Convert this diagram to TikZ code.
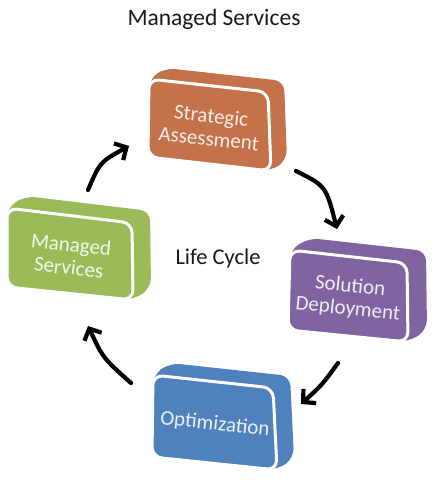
\documentclass[tikz,border=0pt]{standalone}
\usepackage{fontspec}
\setmainfont{Carlito}
\usetikzlibrary{calc,arrows.meta}
\definecolor{cOrange}{HTML}{C4724A}
\definecolor{cGreen}{HTML}{9BBB59}
\definecolor{cPurple}{HTML}{8064A2}
\definecolor{cBlue}{HTML}{4F81BD}
\tikzset{
  boxtext/.style={align=center, font=\fontsize{21}{23}\selectfont, rotate=-6, inner sep=0pt},
  cyc/.style={line width=4.2pt, line cap=round, -{Straight Barb[length=9pt,width=19pt]}},
}
% #1 name, #2 colour, #3 TL, #4 TR, #5 BR, #6 BL, #7 text, #8 depth offset
\newcommand{\slabbox}[8]{%
  \fill[#2, rounded corners=10pt] #3 -- ($#3+#8$) -- ($#4+#8$) -- ($#5+#8$) -- #5 -- #6 -- cycle;
  \draw[fill=#2, draw=white, line width=3pt, rounded corners=10pt] #3 -- #4 -- #5 -- #6 -- cycle;
  \node[boxtext, text=white!88!#2] (#1) at ($#3!0.5!#5+(0,2)$) {#7};
}
\begin{document}
\begin{tikzpicture}[x=1pt,y=-1pt]
\fill[white] (0,0) rectangle (442,483);
\useasboundingbox (0,0) rectangle (442,483);
\node[font=\fontsize{23.5}{26}\selectfont, text=black!90] (title) at (214,19) {Managed Services};
\node[font=\fontsize{22.5}{25}\selectfont, text=black!90] (lc) at (218,258) {Life Cycle};
\slabbox{sa}{cOrange}{(149,79)}{(268,92)}{(271,171)}{(148,157)}{Strategic\\Assessment}{(16,-11)}
\slabbox{ms}{cGreen}{(7,208)}{(132,223)}{(133,300)}{(7,287)}{Managed\\Services}{(18,-12)}
\slabbox{sd}{cPurple}{(290,250)}{(407,263)}{(408,342)}{(288,330)}{Solution\\Deployment}{(19,-12)}
\slabbox{op}{cBlue}{(153,375)}{(273,388)}{(277,470)}{(152,457)}{Optimization}{(17,-12)}
\coordinate (a1s) at (88,190); \coordinate (a1e) at (129,146);
\coordinate (a2s) at (296,171); \coordinate (a2e) at (337,229);
\coordinate (a3s) at (338,363); \coordinate (a3e) at (301,404);
\coordinate (a4s) at (131,383); \coordinate (a4e) at (88,326);
\draw[cyc] (a1s) .. controls (100,162) .. (a1e);
\draw[cyc] (a2s) .. controls (326,186) .. (a2e);
\draw[cyc] (a3s) .. controls (322,385) .. (a3e);
\draw[cyc] (a4s) .. controls (103,358) .. (a4e);
\end{tikzpicture}
\end{document}
